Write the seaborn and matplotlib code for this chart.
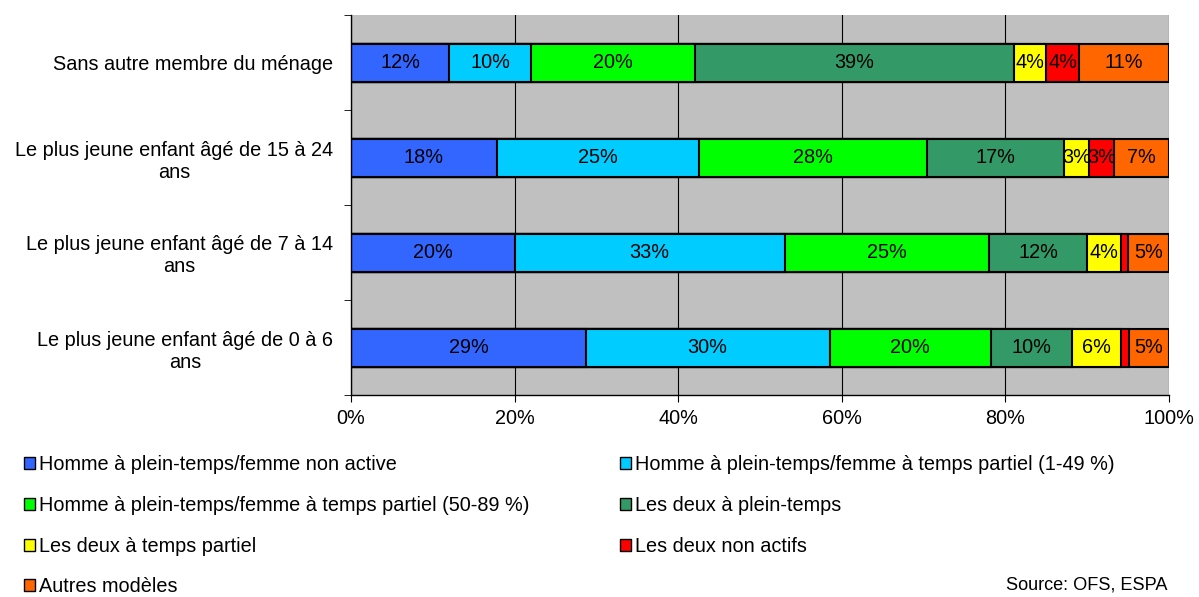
import seaborn as sns
import matplotlib.pyplot as plt
from matplotlib.patches import Patch
import numpy as np
import pandas as pd

# Data (share of couples, %)
categories = [
    "Sans autre membre du ménage",
    "Le plus jeune enfant âgé de 15 à 24\nans",
    "Le plus jeune enfant âgé de 7 à 14\nans",
    "Le plus jeune enfant âgé de 0 à 6\nans",
]
series_names = [
    "Homme à plein-temps/femme non active",
    "Homme à plein-temps/femme à temps partiel (1-49 %)",
    "Homme à plein-temps/femme à temps partiel (50-89 %)",
    "Les deux à plein-temps",
    "Les deux à temps partiel",
    "Les deux non actifs",
    "Autres modèles",
]
plein_non_active = [12.0, 17.8, 20.0, 28.7]
partiel_1_49 = [10.0, 24.8, 33.0, 29.8]
partiel_50_89 = [20.0, 27.8, 25.0, 19.7]
deux_plein = [39.0, 16.8, 12.0, 9.9]
deux_partiel = [4.0, 3.0, 4.1, 6.0]
deux_non_actifs = [4.0, 3.1, 0.9, 1.0]
autres = [11.0, 6.7, 5.0, 4.9]
colors = ["#3366FF", "#00CCFF", "#00FF00", "#339966", "#FFFF00", "#FF0000", "#FF6600"]

series = [plein_non_active, partiel_1_49, partiel_50_89, deux_plein,
          deux_partiel, deux_non_actifs, autres]
vals = np.array(series)
cum = vals.cumsum(axis=0)

FS = 14.3

plt.rcParams['font.family'] = ['Liberation Sans', 'DejaVu Sans']
fig = plt.figure(figsize=(11.99, 5.97), dpi=100)
ax = fig.add_axes([351 / 1199, 1 - 395 / 597, 818 / 1199, 380 / 597])
ax.set_facecolor("#C0C0C0")

# stacked bars: draw cumulative totals from the longest down
for i in range(len(series) - 1, -1, -1):
    df = pd.DataFrame({"cat": categories, "val": cum[i]})
    sns.barplot(data=df, x="val", y="cat", orient="h", color=colors[i],
                width=0.4, edgecolor="black", linewidth=1.5, saturation=1, ax=ax)

for i in range(len(series)):
    for j, cat in enumerate(categories):
        v = vals[i, j]
        if v < 2:
            continue
        ax.text(cum[i, j] - v / 2, j, f"{round(v)}%", ha="center", va="center",
                fontsize=FS, color="black")

ax.set_xlim(0, 100)
ax.set_ylim(3.5, -0.5)
ax.set_xticks(range(0, 101, 20))
ax.set_xticklabels([f"{t}%" for t in range(0, 101, 20)], fontsize=FS)
ax.set_yticks(range(len(categories)))
ax.set_yticklabels(categories, fontsize=FS, multialignment="center")
ax.set_yticks([-0.5, 0.5, 1.5, 2.5, 3.5], minor=True)
ax.tick_params(axis="y", which="major", length=0, pad=13)
ax.tick_params(axis="y", which="minor", length=5, color="black")
ax.tick_params(axis="x", length=5, color="black", pad=5)
ax.set_xlabel("")
ax.set_ylabel("")
ax.grid(axis="x", color="black", linewidth=0.8)
ax.set_axisbelow(True)
for s in ["top", "right"]:
    ax.spines[s].set_visible(False)
for s in ["left", "bottom"]:
    ax.spines[s].set_color("black")
    ax.spines[s].set_linewidth(1)

handles = [Patch(facecolor=c, edgecolor="black", linewidth=1) for c in colors]
order = [0, 2, 4, 6, 1, 3, 5]
fig.legend([handles[k] for k in order], [series_names[k] for k in order],
           ncol=2, loc="upper left", bbox_to_anchor=(6 / 1199, 1 - 437 / 597),
           frameon=False, fontsize=FS, handlelength=0.55, handleheight=0.55,
           handletextpad=0.2, labelspacing=1.1, columnspacing=4.55)

fig.text(1168 / 1199, 1 - 585 / 597, "Source: OFS, ESPA", ha="right", va="center",
         fontsize=13.1)

fig.savefig("out.png", dpi=100)
